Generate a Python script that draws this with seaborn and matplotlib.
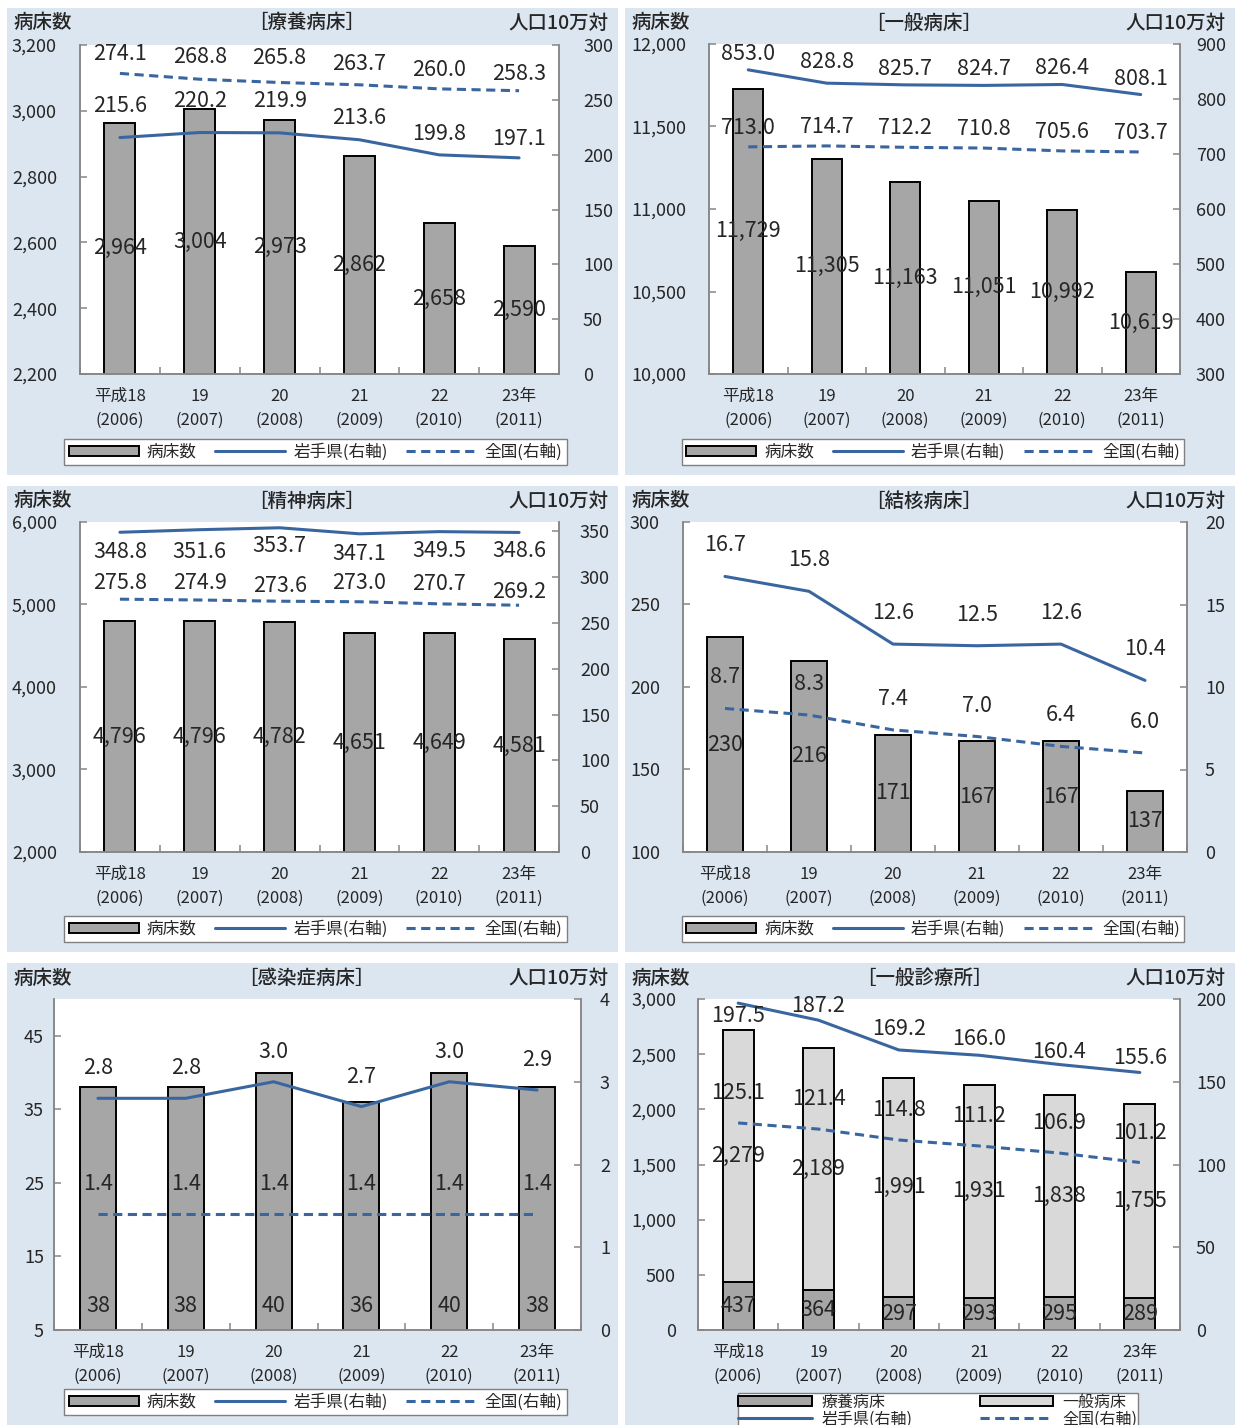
import numpy as np
import matplotlib
matplotlib.use("Agg")
import matplotlib.pyplot as plt
from matplotlib.patches import Rectangle, Patch
from matplotlib.lines import Line2D
from matplotlib.ticker import FuncFormatter
import seaborn as sns

sns.set_theme(style="white")
plt.rcParams["font.family"] = ["Noto Sans CJK JP", "DejaVu Sans"]

W, H = 1240, 1425
BG = "#DCE6F1"
BLUE = "#3A66A0"
BAR = "#A6A6A6"
BAR_LIGHT = "#D9D9D9"
AXIS = "#868686"
DASH = (0, (3, 1.8))

years = ["平成18\n(2006)", "19\n(2007)", "20\n(2008)", "21\n(2009)", "22\n(2010)", "23年\n(2011)"]

# 療養病床
ryoyo_beds = [2964, 3004, 2973, 2862, 2658, 2590]
ryoyo_iwate = [215.6, 220.2, 219.9, 213.6, 199.8, 197.1]
ryoyo_zenkoku = [274.1, 268.8, 265.8, 263.7, 260.0, 258.3]

# 一般病床
ippan_beds = [11729, 11305, 11163, 11051, 10992, 10619]
ippan_iwate = [853.0, 828.8, 825.7, 824.7, 826.4, 808.1]
ippan_zenkoku = [713.0, 714.7, 712.2, 710.8, 705.6, 703.7]

# 精神病床
seishin_beds = [4796, 4796, 4782, 4651, 4649, 4581]
seishin_iwate = [348.8, 351.6, 353.7, 347.1, 349.5, 348.6]
seishin_zenkoku = [275.8, 274.9, 273.6, 273.0, 270.7, 269.2]

# 結核病床
kekkaku_beds = [230, 216, 171, 167, 167, 137]
kekkaku_iwate = [16.7, 15.8, 12.6, 12.5, 12.6, 10.4]
kekkaku_zenkoku = [8.7, 8.3, 7.4, 7.0, 6.4, 6.0]

# 感染症病床
kansen_beds = [38, 38, 40, 36, 40, 38]
kansen_iwate = [2.8, 2.8, 3.0, 2.7, 3.0, 2.9]
kansen_zenkoku = [1.4, 1.4, 1.4, 1.4, 1.4, 1.4]

# 一般診療所 (療養病床 + 一般病床)
clinic_ryoyo = [437, 364, 297, 293, 295, 289]
clinic_ippan = [2279, 2189, 1991, 1931, 1838, 1755]
clinic_iwate = [197.5, 187.2, 169.2, 166.0, 160.4, 155.6]
clinic_zenkoku = [125.1, 121.4, 114.8, 111.2, 106.9, 101.2]

panels = [
    dict(title="［療養病床］", col=0, row=0, rect=(80, 45, 559, 374), width=0.39,
         beds=ryoyo_beds, iwate=ryoyo_iwate, zenkoku=ryoyo_zenkoku,
         ylim=(2200, 3200), yticks=np.arange(2200, 3201, 200),
         y2lim=(0, 300), y2ticks=np.arange(0, 301, 50),
         dy_iwate=[-32, -32, -32, -22, -21, -19], dy_zen=[-19, -22, -25, -21, -19, -17],
         pad=(23, 24)),
    dict(title="［一般病床］", col=1, row=0, rect=(709, 44, 1180, 374), width=0.38,
         beds=ippan_beds, iwate=ippan_iwate, zenkoku=ippan_zenkoku,
         ylim=(10000, 12000), yticks=np.arange(10000, 12001, 500),
         y2lim=(300, 900), y2ticks=np.arange(300, 901, 100),
         dy_iwate=[-16, -21, -16, -16, -16, -16], dy_zen=[-19] * 6,
         pad=(23, 16)),
    dict(title="［精神病床］", col=0, row=1, rect=(80, 522, 559, 852), width=0.39,
         beds=seishin_beds, iwate=seishin_iwate, zenkoku=seishin_zenkoku,
         ylim=(2000, 6000), yticks=np.arange(2000, 6001, 1000),
         y2lim=(0, 360), y2ticks=np.arange(0, 351, 50),
         dy_iwate=[20, 22, 18, 20, 19, 19], dy_zen=[-16, -17, -15, -19, -20, -13],
         pad=(23, 21)),
    dict(title="［結核病床］", col=1, row=1, rect=(683, 522, 1187, 852), width=0.42,
         beds=kekkaku_beds, iwate=kekkaku_iwate, zenkoku=kekkaku_zenkoku,
         ylim=(100, 300), yticks=np.arange(100, 301, 50),
         y2lim=(0, 20), y2ticks=np.arange(0, 21, 5),
         dy_iwate=[-31] * 6, dy_zen=[-31] * 6,
         pad=(23, 18)),
    dict(title="［感染症病床］", col=0, row=2, rect=(54, 999, 581, 1330), width=0.41,
         beds=kansen_beds, iwate=kansen_iwate, zenkoku=kansen_zenkoku,
         ylim=(5, 50), yticks=np.arange(5, 46, 10),
         y2lim=(0, 4), y2ticks=np.arange(0, 5, 1),
         dy_iwate=[-30] * 6, dy_zen=[-30] * 6,
         pad=(10, 19)),
    dict(title="［一般診療所］", col=1, row=2, rect=(698, 999, 1180, 1330), width=0.39,
         beds=None, iwate=clinic_iwate, zenkoku=clinic_zenkoku,
         ylim=(0, 3000), yticks=np.arange(0, 3001, 500),
         y2lim=(0, 200), y2ticks=np.arange(0, 201, 50),
         dy_iwate=[13, -14, -21, -16, -13, -14], dy_zen=[-30] * 6,
         pad=(22, 16)),
]

col_x = [(7, 618), (625, 1235)]
row_y = [(8, 475), (486, 952), (963, 1425)]

fig = plt.figure(figsize=(W / 100, H / 100), dpi=100, facecolor="white")


def fx(px):
    return px / W


def fy(py):
    return 1 - py / H


for (x0, x1) in col_x:
    for (y0, y1) in row_y:
        fig.add_artist(Rectangle((fx(x0), fy(y1)), fx(x1 - x0), (y1 - y0) / H,
                                 transform=fig.transFigure, facecolor=BG,
                                 edgecolor="none", zorder=-10))

bar_handle = Patch(facecolor=BAR, edgecolor="black", linewidth=1.4)
iwate_handle = Line2D([], [], color=BLUE, lw=2.2)
zen_handle = Line2D([], [], color=BLUE, lw=2.2, linestyle=DASH)

x = np.arange(6)
for p in panels:
    l, t, r, b = p["rect"]
    ax = fig.add_axes([fx(l), fy(b), fx(r - l), (b - t) / H])
    ax.set_facecolor("white")

    if p["beds"] is not None:
        sns.barplot(x=years, y=p["beds"], color=BAR, saturation=1, width=p["width"],
                    edgecolor="black", linewidth=1.4, ax=ax)
    else:
        totals = np.add(clinic_ryoyo, clinic_ippan)
        sns.barplot(x=years, y=totals, color=BAR_LIGHT, saturation=1, width=p["width"],
                    edgecolor="black", linewidth=1.4, ax=ax)
        sns.barplot(x=years, y=clinic_ryoyo, color=BAR, saturation=1, width=p["width"],
                    edgecolor="black", linewidth=1.4, ax=ax)

    ax.set_ylim(*p["ylim"])
    ax.set_yticks(p["yticks"])
    ax.yaxis.set_major_formatter(FuncFormatter(lambda v, _: f"{v:,.0f}"))
    ax.set_xlim(-0.5, 5.5)
    ax.set_xlabel("")
    ax.set_ylabel("")
    ax.set_xticks(np.arange(-0.5, 6), minor=True)
    ax.tick_params(axis="x", which="major", length=0, labelsize=12, pad=10)
    ax.tick_params(axis="x", which="minor", bottom=True, direction="in", length=5,
                   color=AXIS, width=1.1)
    ax.tick_params(axis="y", left=True, direction="in", length=5, color=AXIS, width=1.1,
                   labelsize=13, pad=p["pad"][0] * 0.72)
    for lab in ax.get_xticklabels():
        lab.set_linespacing(1.5)

    ax2 = ax.twinx()
    sns.lineplot(x=x, y=p["iwate"], color=BLUE, lw=2.2, legend=False, ax=ax2)
    sns.lineplot(x=x, y=p["zenkoku"], color=BLUE, lw=2.2, linestyle=DASH,
                 legend=False, ax=ax2)
    ax2.set_ylim(*p["y2lim"])
    ax2.set_yticks(p["y2ticks"])
    ax2.set_xlim(-0.5, 5.5)
    ax2.set_ylabel("")
    ax2.tick_params(axis="y", right=True, direction="in", length=5, color=AXIS, width=1.1,
                    labelsize=13, pad=p["pad"][1] * 0.72)

    for a in (ax, ax2):
        a.spines["top"].set_visible(False)
        for s in ("left", "right", "bottom"):
            a.spines[s].set_color(AXIS)
            a.spines[s].set_linewidth(1.1)

    # bar value labels
    ymin = p["ylim"][0]
    if p["beds"] is None:
        for i in range(6):
            ax.annotate(f"{clinic_ryoyo[i]:,}", (i, clinic_ryoyo[i] / 2),
                        ha="center", va="center", fontsize=15.5)
            ax.annotate(f"{clinic_ippan[i]:,}", (i, clinic_ryoyo[i] + clinic_ippan[i] / 2),
                        ha="center", va="center", fontsize=15.5)
    elif p["title"] == "［感染症病床］":
        for i, v in enumerate(p["beds"]):
            ax.annotate(f"{v:,}", (i, ymin), xytext=(0, 24 * 0.72), textcoords="offset points",
                        ha="center", va="center", fontsize=15.5)
    else:
        for i, v in enumerate(p["beds"]):
            ax.annotate(f"{v:,}", (i, (ymin + v) / 2), ha="center", va="center", fontsize=15.5)

    # line value labels
    for i in range(6):
        ax2.annotate(f"{p['iwate'][i]:.1f}", (i, p["iwate"][i]),
                     xytext=(0, -p["dy_iwate"][i] * 0.72), textcoords="offset points",
                     ha="center", va="center", fontsize=15.5)
        ax2.annotate(f"{p['zenkoku'][i]:.1f}", (i, p["zenkoku"][i]),
                     xytext=(0, -p["dy_zen"][i] * 0.72), textcoords="offset points",
                     ha="center", va="center", fontsize=15.5)

    # header texts
    cx0, cx1 = col_x[p["col"]]
    ty = row_y[p["row"]][0] + 15
    fig.text(fx(cx0 + 7), fy(ty), "病床数", ha="left", va="center", fontsize=14, fontweight="medium")
    fig.text(fx((cx0 + cx1) / 2 - 6), fy(ty), p["title"], ha="center", va="center",
             fontsize=14, fontweight="medium")
    fig.text(fx(cx1 - 9), fy(ty), "人口10万対", ha="right", va="center", fontsize=14,
             fontweight="medium")

    # legend
    if p["beds"] is not None:
        lx = (cx0 + 50 + cx1 - 44) / 2
        ly = row_y[p["row"]][1] - 23
        fig.legend([bar_handle, iwate_handle, zen_handle], ["病床数", "岩手県(右軸)", "全国(右軸)"],
                   loc="center", bbox_to_anchor=(fx(lx), fy(ly)), ncol=3, fontsize=12,
                   frameon=True, fancybox=False, edgecolor="#808080", framealpha=1,
                   handlelength=4.2, handleheight=0.6, handletextpad=0.5,
                   columnspacing=1.1, borderpad=0.25)
    else:
        clinic_bar = Patch(facecolor=BAR, edgecolor="black", linewidth=1.4)
        ippan_bar = Patch(facecolor=BAR_LIGHT, edgecolor="black", linewidth=1.4)
        fig.legend([clinic_bar, iwate_handle, ippan_bar, zen_handle],
                   ["療養病床", "岩手県(右軸)", "一般病床", "全国(右軸)"],
                   loc="upper center", bbox_to_anchor=(fx(938), fy(1385)), ncol=2, fontsize=11.5,
                   frameon=True, fancybox=False, edgecolor="#808080", framealpha=1,
                   handlelength=4.6, handleheight=0.6, handletextpad=0.6,
                   columnspacing=4.2, borderpad=0.05, labelspacing=0.0)

fig.savefig("out.png", dpi=100, facecolor="white")
